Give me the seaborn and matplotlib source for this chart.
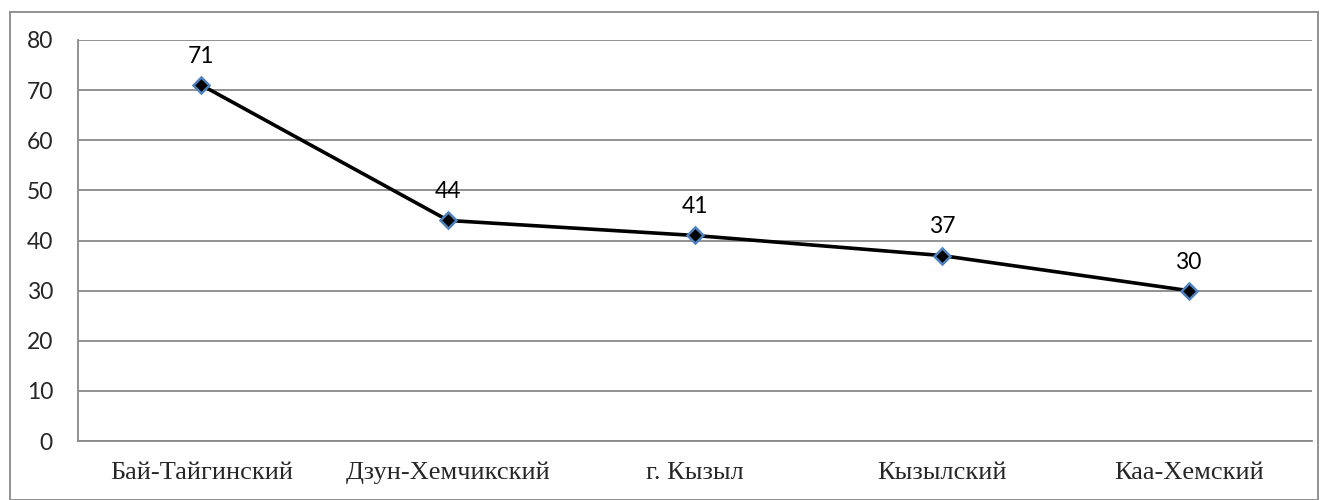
import matplotlib
matplotlib.use("Agg")
import matplotlib.pyplot as plt
import seaborn as sns
import pandas as pd
from matplotlib.patches import Rectangle

districts = ["Бай-Тайгинский", "Дзун-Хемчикский", "г. Кызыл", "Кызылский", "Каа-Хемский"]
values = [71, 44, 41, 37, 30]
y_ticks = [0, 10, 20, 30, 40, 50, 60, 70, 80]

sns.set_theme(style="white")
plt.rcParams["font.family"] = ["Lato", "DejaVu Sans"]

df = pd.DataFrame({"district": districts, "value": values})
df["pos"] = range(len(districts))

fig = plt.figure(figsize=(13.21, 5.0), dpi=100)
ax = fig.add_axes([78 / 1321, 1 - 441 / 500, (1312 - 78) / 1321, (441 - 40) / 500])

grid_color = "#898989"

sns.lineplot(data=df, x="pos", y="value", ax=ax, color="black", linewidth=2.6,
             marker="D", markersize=8.5, markerfacecolor="black",
             markeredgecolor="#4F81BD", markeredgewidth=1.8, zorder=3)

ax.set_xlim(-0.5, len(districts) - 0.5)
ax.set_ylim(0, 80)
ax.set_yticks(y_ticks)
ax.set_yticklabels([str(t) for t in y_ticks], fontsize=16.5)
ax.yaxis.grid(True, color=grid_color, linewidth=1.3)
ax.set_axisbelow(True)

# category labels centred in each slot, tick marks on the slot boundaries
ax.set_xticks(df["pos"])
ax.set_xticklabels(districts, fontsize=19, family="Liberation Serif")
ax.tick_params(axis="x", which="major", length=0, pad=15)
ax.set_xticks([i - 0.5 for i in range(len(districts) + 1)], minor=True)
ax.tick_params(axis="x", which="minor", length=6.5, width=1.3, color=grid_color, direction="out")
ax.tick_params(axis="y", length=6, width=1.3, color=grid_color, direction="out", pad=12)

for side in ["top", "right"]:
    ax.spines[side].set_visible(False)
for side in ["left", "bottom"]:
    ax.spines[side].set_color(grid_color)
    ax.spines[side].set_linewidth(1.3)

ax.set_xlabel("")
ax.set_ylabel("")

for p, v in zip(df["pos"], df["value"]):
    ax.annotate(str(v), (p, v), xytext=(0, 13), textcoords="offset points",
                ha="center", va="bottom", fontsize=16.5, color="black")

# chart-area border
fig.patches.append(Rectangle((10 / 1321, 0), (1318 - 10) / 1321, 1 - 12 / 500,
                             transform=fig.transFigure, fill=False,
                             edgecolor=grid_color, linewidth=1.3))

fig.savefig("out.png", dpi=100)
